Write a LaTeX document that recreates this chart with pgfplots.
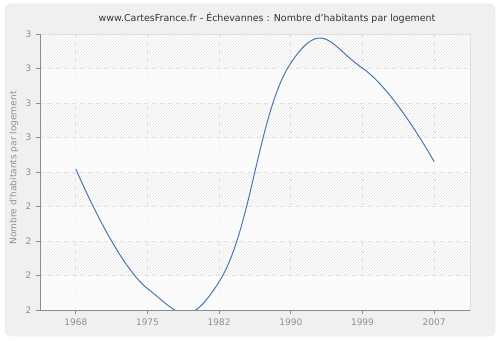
\documentclass[border=0pt]{standalone}
\usepackage{pgfplots}
\pgfplotsset{compat=1.18}
\usepackage{fontspec}
\setmainfont{DejaVu Sans}
\usetikzlibrary{patterns}
\definecolor{linec}{HTML}{4C78B0}
\definecolor{bgc}{HTML}{F0F0F0}
\definecolor{gridc}{HTML}{E2E2E2}
\definecolor{tickc}{HTML}{909090}
\definecolor{hatchc}{HTML}{E6E6E6}
\begin{document}
\begin{tikzpicture}[x=1pt,y=1pt]
\fill[white] (0,0) rectangle (500,340);
\draw[fill=bgc, draw=gray!20, rounded corners=6pt] (5,4) rectangle (495,336);
\node[font=\fontsize{9.5}{11}\selectfont, text=black!80] at (267,322) {www.CartesFrance.fr - Échevannes : Nombre d'habitants par logement};
\node[font=\fontsize{9}{10}\selectfont, text=tickc, rotate=90] at (14,172) {Nombre d'habitants par logement};
\begin{axis}[
  at={(40pt,30pt)}, anchor=south west, scale only axis,
  width=430pt, height=276pt,
  xmin=-0.5, xmax=5.5, ymin=0, ymax=8,
  xtick={0,1,2,3,4,5},
  xticklabels={1968,1975,1982,1990,1999,2007},
  ytick={0,1,2,3,4,5,6,7,8},
  yticklabels={2,2,2,2,3,3,3,3,3},
  tick pos=left, tick align=outside,
  major tick length=4pt,
  major tick style={draw=tickc, line width=0.8pt},
  ticklabel style={font=\fontsize{9}{10}\selectfont, text=tickc},
  xticklabel style={yshift=-1pt},
  yticklabel style={xshift=-1pt},
  grid=major,
  major grid style={draw=gridc, dash pattern=on 4pt off 4pt, line width=0.7pt},
  axis line style={draw=gray!25},
  axis background/.style={fill=white, postaction={pattern=north east lines, pattern color=hatchc}},
  clip=true,
]
\fill[white, opacity=0.6] (axis cs:-0.5,0) rectangle (axis cs:5.5,1);
\fill[white, opacity=0.6] (axis cs:-0.5,2) rectangle (axis cs:5.5,3);
\fill[white, opacity=0.6] (axis cs:-0.5,4) rectangle (axis cs:5.5,5);
\fill[white, opacity=0.6] (axis cs:-0.5,6) rectangle (axis cs:5.5,7);
\addplot[smooth, tension=0.8, draw=linec, line width=1pt] coordinates {
(0,4.09) (1,0.62) (2,0.82) (3,7.16) (4,7.01) (5,4.30)
};
\draw[draw=gray!90, line width=0.8pt] (rel axis cs:0,1) -- (rel axis cs:0,0) -- (rel axis cs:1,0);
\end{axis}
\end{tikzpicture}
\end{document}
